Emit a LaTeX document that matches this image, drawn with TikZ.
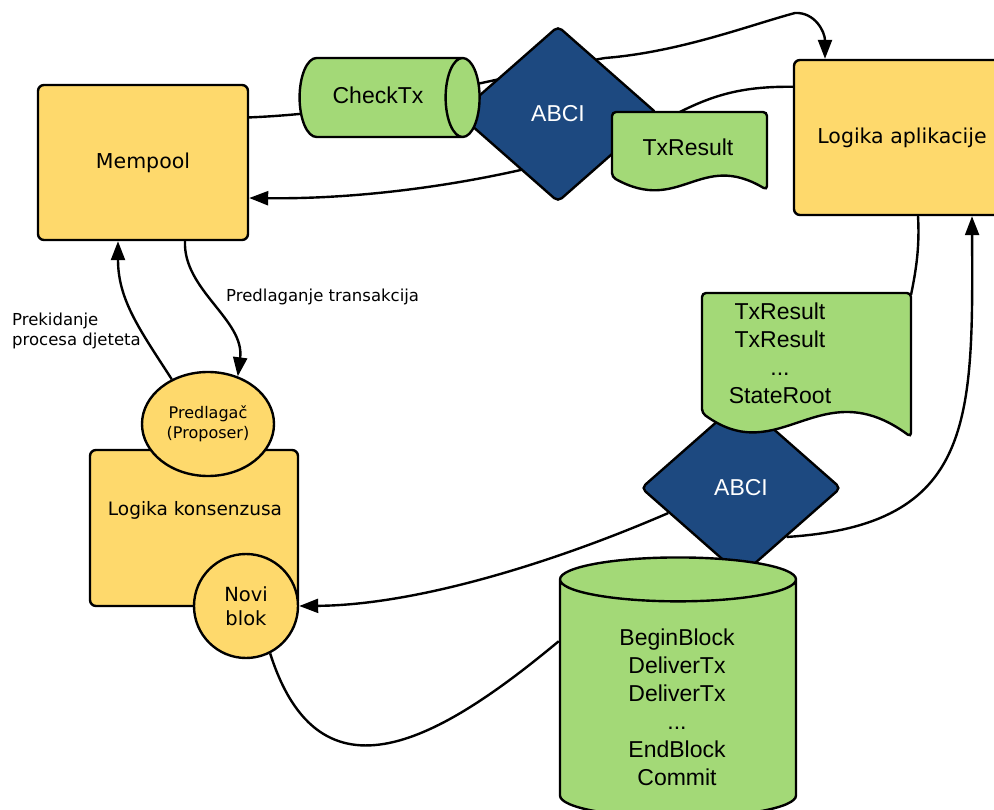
\documentclass[tikz,border=0pt]{standalone}
\usepackage{fontspec}
\setmainfont{DejaVu Sans}
\newfontfamily\arialfont{Liberation Sans}
\usetikzlibrary{shapes.geometric, arrows.meta, backgrounds}

\definecolor{zuta}{RGB}{254,217,108}
\definecolor{zelena}{RGB}{163,217,119}
\definecolor{plava}{RGB}{29,73,128}

\begin{document}
\begin{tikzpicture}[x=1pt, y=-1pt, line width=2.4pt,
    box/.style={draw, fill=zuta, rounded corners=6pt, font=\fontsize{20.5}{24}\selectfont},
    krug/.style={draw, fill=zuta, ellipse, inner sep=0pt, align=center},
    cyl/.style={draw, fill=zelena, cylinder},
    abci/.style={draw, fill=plava, diamond, rounded corners=5pt, inner sep=0pt, text=white,
        minimum width=200pt, minimum height=176pt, font=\arialfont\fontsize{23}{28}\selectfont},
    doc/.style={draw, fill=zelena, rounded corners=4pt},
    doctext/.style={align=center, font=\arialfont\fontsize{23}{28}\selectfont},
    veza/.style={line width=2.4pt},
    tok/.style={veza, -{Triangle[length=19pt,width=14pt]}},
    oznaka/.style={align=left, inner sep=0pt, font=\fontsize{16.5}{20.5}\selectfont}]
    \useasboundingbox (0,0) rectangle (994,810);
    \clip (0,0) rectangle (994,810);

    % yellow part
    \node[box, minimum width=210pt, minimum height=155pt] (mempool) at (143,162.5) {Mempool};
    \node[box, minimum width=216pt, minimum height=155pt] (app) at (902,137.5) {Logika aplikacije};
    \node[box, minimum width=208pt, minimum height=156pt] (konsenzus) at (194,528) {};
    \node[font=\fontsize{18.5}{22}\selectfont] (konsTekst) at (195,510) {Logika konsenzusa};
    \node[krug, minimum width=132pt, minimum height=104pt, font=\fontsize{16}{20}\selectfont] (predlagac) at (208,424) {Predlagač\\(Proposer)};
    \node[krug, circle, minimum size=104pt, font=\fontsize{19.5}{24}\selectfont] (noviblok) at (246,606) {Novi\\blok};

    % ABCI gore
    \node[abci] (abciGore) at (558,114) {ABCI};
    \node[cyl, inner xsep=0pt, inner ysep=39.5pt, aspect=0.43, minimum width=79pt, minimum height=180pt] (checktx) at (372,97.5) {};
    \node[doctext] (checktxTekst) at (378,95) {CheckTx};
    \draw[doc] (767,190) .. controls (700,150) and (680,215) .. (612,177) -- (612,112) -- (767,112) -- cycle;
    \node[doctext] (txres) at (688,147) {TxResult};

    % ABCI dolje
    \node[abci] (abciDolje) at (741,488) {ABCI};
    \draw[doc] (911,437) .. controls (820,370) and (780,470) .. (702,413) -- (702,293) -- (911,293) -- cycle;
    \node[doctext] (rezultati) at (780,353) {TxResult\\TxResult\\...\\StateRoot};
    \coordinate (rezultatiKut) at (911,295);
    \node[cyl, shape border rotate=90, inner xsep=118pt, inner ysep=0pt, aspect=0.186, minimum width=236pt, minimum height=260pt] (blok) at (678,710) {};
    \node[doctext] (blokTekst) at (677,707.5) {BeginBlock\\DeliverTx\\DeliverTx\\...\\EndBlock\\Commit};

    \node[oznaka, anchor=west] (predlaganje) at (225,297) {Predlaganje transakcija};
    \node[oznaka, anchor=west] (prekidanje) at (11,331) {Prekidanje\\procesa djeteta};

    \begin{pgfonlayer}{background}
        \draw[tok] (mempool.23) .. controls (380,112) and (480,80) .. (605,58)
            .. controls (680,52) and (750,25) .. (795,13) .. controls (815,12) and (825,32) .. ([xshift=-77pt]app.north);
        \draw[tok] ([yshift=-28pt]app.north west) .. controls (730,86) and (700,100) .. (650,128)
            .. controls (590,160) and (420,200) .. ([yshift=-35.5pt]mempool.east);
        \draw[tok] (predlagac.129) .. controls (140,330) and (118,300) .. ([xshift=-25pt]mempool.south);
        \draw[tok] ([xshift=42pt]mempool.south) .. controls (183,290) and (245,320) .. (predlagac.58);
        \draw[veza] ([xshift=16pt]app.south) .. controls (920,250) and (915,275) .. (rezultatiKut);
        \draw[tok] (abciDolje.-47) .. controls (975,525) and (973,420) .. ([xshift=70pt]app.south);
        \draw[tok] (abciDolje.199) .. controls (560,560) and (420,605) .. (noviblok.east);
        \draw[veza] (blok.150) .. controls (440,740) and (320,810) .. (noviblok.-63);
    \end{pgfonlayer}
\end{tikzpicture}
\end{document}
